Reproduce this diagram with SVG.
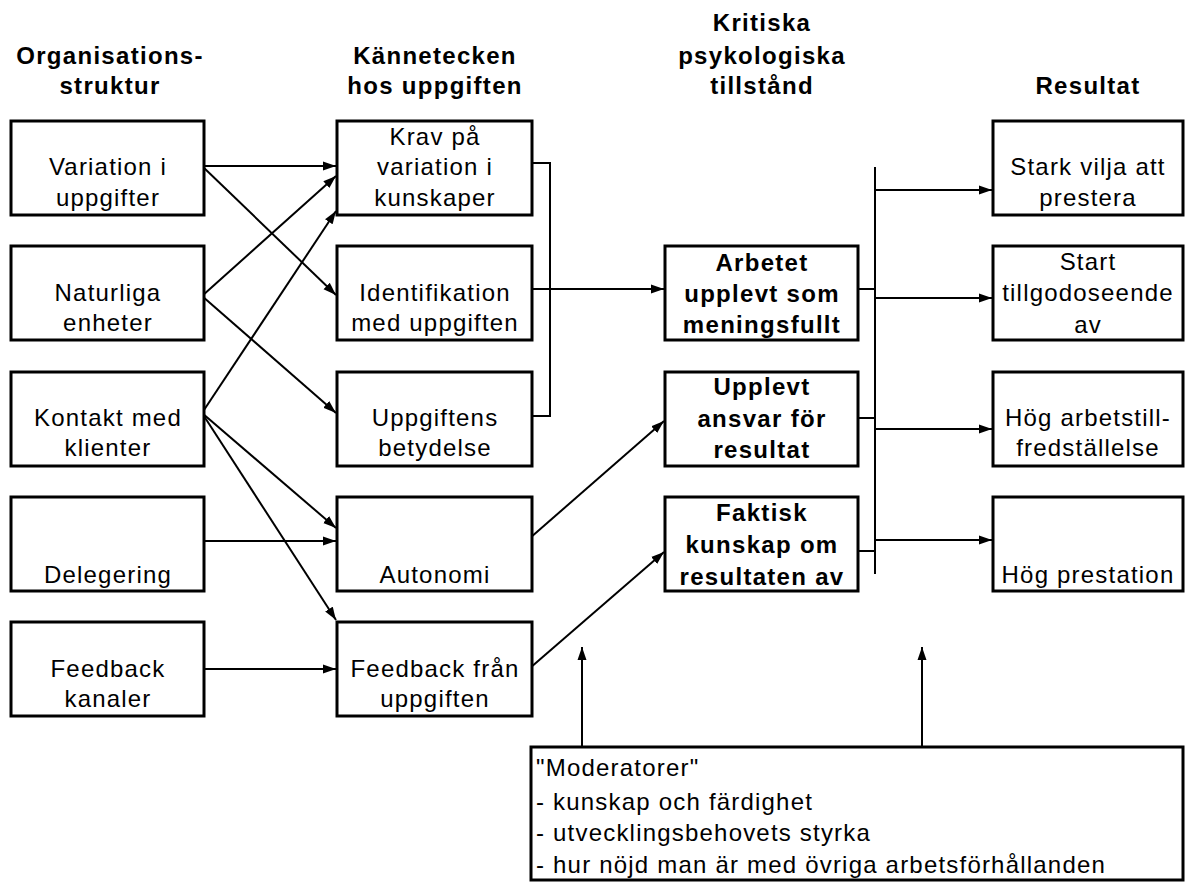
<svg xmlns="http://www.w3.org/2000/svg" width="1185" height="882" viewBox="0 0 1185 882">
<defs>
<marker id="ah" markerUnits="userSpaceOnUse" markerWidth="14" markerHeight="10" refX="13" refY="5" orient="auto">
<path d="M0,0.5 L13,5 L0,9.5 z" fill="#000"/>
</marker>
<style>
.box{fill:#fff;stroke:#000;stroke-width:3}
.t{font-family:"Liberation Sans",Arial,sans-serif;font-size:24px;letter-spacing:1.2px;text-anchor:middle;fill:#000}
.b{font-weight:bold;letter-spacing:1.3px}
.m{text-anchor:start}
.c{fill:none;stroke:#000;stroke-width:2}
.a{marker-end:url(#ah)}
</style>
</defs>
<rect width="1185" height="882" fill="#fff"/>

<g id="headers">
<text class="t b" x="110" y="64">Organisations-</text>
<text class="t b" x="110" y="94">struktur</text>
<text class="t b" x="435" y="64">Kännetecken</text>
<text class="t b" x="435" y="94">hos uppgiften</text>
<text class="t b" x="762" y="31">Kritiska</text>
<text class="t b" x="762" y="64">psykologiska</text>
<text class="t b" x="762" y="94">tillstånd</text>
<text class="t b" x="1088" y="94">Resultat</text>
</g>

<g id="connectors">
<!-- col1 -> col2 -->
<line class="c a" x1="202" y1="166" x2="336" y2="166"/>
<line class="c a" x1="202" y1="166" x2="336" y2="295"/>
<line class="c a" x1="202" y1="296" x2="336" y2="176"/>
<line class="c a" x1="202" y1="296" x2="336" y2="413"/>
<line class="c a" x1="202" y1="413" x2="336" y2="211"/>
<line class="c a" x1="202" y1="413" x2="336" y2="528"/>
<line class="c a" x1="202" y1="413" x2="336" y2="620"/>
<line class="c a" x1="202" y1="541" x2="336" y2="541"/>
<line class="c a" x1="202" y1="669" x2="336" y2="669"/>
<!-- bracket col2 -> col3 -->
<polyline class="c" points="530,163 550,163 550,416 532,416"/>
<line class="c a" x1="530" y1="289" x2="664" y2="289"/>
<line class="c a" x1="530" y1="538" x2="664" y2="421"/>
<line class="c a" x1="530" y1="668" x2="664" y2="552"/>
<!-- col3 -> vertical line -->
<line class="c" x1="875" y1="167" x2="875" y2="574"/>
<line class="c" x1="858" y1="289" x2="875" y2="289"/>
<line class="c" x1="858" y1="418" x2="875" y2="418"/>
<line class="c" x1="858" y1="551" x2="875" y2="551"/>
<!-- vertical line -> col4 -->
<line class="c a" x1="875" y1="190" x2="992" y2="190"/>
<line class="c a" x1="875" y1="298" x2="992" y2="298"/>
<line class="c a" x1="875" y1="429" x2="992" y2="429"/>
<line class="c a" x1="875" y1="540" x2="992" y2="540"/>
<!-- moderators -->
<line class="c a" x1="582" y1="747" x2="582" y2="647"/>
<line class="c a" x1="922" y1="747" x2="922" y2="647"/>
</g>

<g id="n-variation"><rect class="box" x="11" y="121" width="193" height="94"/>
<text class="t" x="108" y="175">Variation i</text><text class="t" x="108" y="206">uppgifter</text></g>
<g id="n-naturliga"><rect class="box" x="11" y="246" width="193" height="94"/>
<text class="t" x="108" y="301">Naturliga</text><text class="t" x="108" y="331">enheter</text></g>
<g id="n-kontakt"><rect class="box" x="11" y="372" width="193" height="94"/>
<text class="t" x="108" y="426">Kontakt med</text><text class="t" x="108" y="456">klienter</text></g>
<g id="n-delegering"><rect class="box" x="11" y="497" width="193" height="94"/>
<text class="t" x="108" y="583">Delegering</text></g>
<g id="n-feedbackkanaler"><rect class="box" x="11" y="622" width="193" height="94"/>
<text class="t" x="108" y="677">Feedback</text><text class="t" x="108" y="707">kanaler</text></g>

<g id="n-krav"><rect class="box" x="337" y="121" width="195" height="94"/>
<text class="t" x="435" y="145">Krav på</text><text class="t" x="435" y="175">variation i</text><text class="t" x="435" y="206">kunskaper</text></g>
<g id="n-identifikation"><rect class="box" x="337" y="246" width="195" height="94"/>
<text class="t" x="435" y="301">Identifikation</text><text class="t" x="435" y="331">med uppgiften</text></g>
<g id="n-uppgiftens"><rect class="box" x="337" y="372" width="195" height="94"/>
<text class="t" x="435" y="426">Uppgiftens</text><text class="t" x="435" y="456">betydelse</text></g>
<g id="n-autonomi"><rect class="box" x="337" y="497" width="195" height="94"/>
<text class="t" x="435" y="583">Autonomi</text></g>
<g id="n-feedbackfran"><rect class="box" x="337" y="622" width="195" height="94"/>
<text class="t" x="435" y="677">Feedback från</text><text class="t" x="435" y="707">uppgiften</text></g>

<g id="n-arbetet"><rect class="box" x="665" y="246" width="193" height="94"/>
<text class="t b" x="762" y="271">Arbetet</text><text class="t b" x="762" y="302">upplevt som</text><text class="t b" x="762" y="333">meningsfullt</text></g>
<g id="n-ansvar"><rect class="box" x="665" y="372" width="193" height="94"/>
<text class="t b" x="762" y="395">Upplevt</text><text class="t b" x="762" y="427">ansvar för</text><text class="t b" x="762" y="458">resultat</text></g>
<g id="n-kunskap"><rect class="box" x="665" y="497" width="193" height="94"/>
<text class="t b" x="762" y="521">Faktisk</text><text class="t b" x="762" y="553">kunskap om</text><text class="t b" x="762" y="585">resultaten av</text></g>

<g id="n-stark"><rect class="box" x="993" y="121" width="190" height="94"/>
<text class="t" x="1088" y="175">Stark vilja att</text><text class="t" x="1088" y="206">prestera</text></g>
<g id="n-start"><rect class="box" x="993" y="246" width="190" height="94"/>
<text class="t" x="1088" y="270">Start</text><text class="t" x="1088" y="301">tillgodoseende</text><text class="t" x="1088" y="333">av</text></g>
<g id="n-arbetstillfredsstallelse"><rect class="box" x="993" y="372" width="190" height="94"/>
<text class="t" x="1088" y="426">Hög arbetstill-</text><text class="t" x="1088" y="456">fredställelse</text></g>
<g id="n-prestation"><rect class="box" x="993" y="497" width="190" height="94"/>
<text class="t" x="1088" y="583">Hög prestation</text></g>

<g id="n-moderatorer"><rect class="box" x="531" y="747" width="652" height="133"/>
<text class="t m" x="536" y="776">"Moderatorer"</text>
<text class="t m" x="536" y="810">- kunskap och färdighet</text>
<text class="t m" x="536" y="841">- utvecklingsbehovets styrka</text>
<text class="t m" x="536" y="873">- hur nöjd man är med övriga arbetsförhållanden</text></g>
</svg>
